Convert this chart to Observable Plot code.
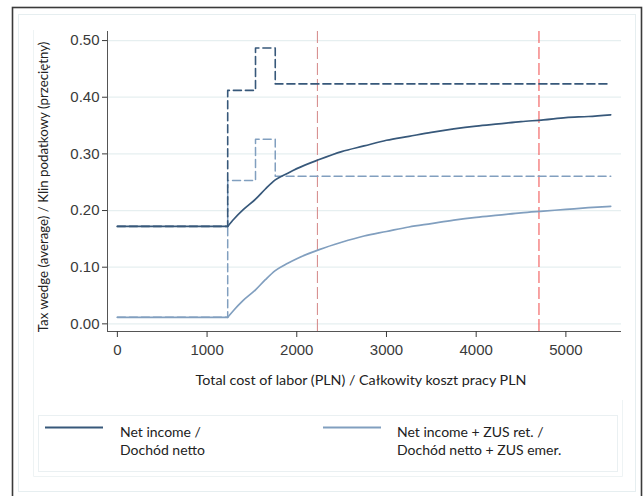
<!DOCTYPE html>
<html>
<head>
<meta charset="utf-8">
<script src="https://cdn.jsdelivr.net/npm/d3@7"></script>
<script src="https://cdn.jsdelivr.net/npm/@observablehq/plot@0.6"></script>
<style>
  html, body { margin: 0; padding: 0; background: #fff; }
  #wrap { position: relative; width: 644px; height: 496px; overflow: hidden; background: #fff; }
  #wrap > * { position: absolute; left: 0; top: 0; }
  .leg { font-family: Lato, "Open Sans", sans-serif; font-size: 14px; line-height: 18px; color: #222; }
</style>
</head>
<body>
<div id="wrap"></div>
<script>
// ---- data ----
const costAvg = [0, 1230, 1300, 1400, 1540, 1650, 1760, 1900, 2000, 2250, 2500, 2750, 3000, 3250, 3500, 3750, 4000, 4250, 4500, 4750, 5000, 5250, 5500];
const wedgeNet = [0.172, 0.172, 0.185, 0.201, 0.220, 0.238, 0.254, 0.266, 0.274, 0.290, 0.304, 0.314, 0.324, 0.331, 0.338, 0.344, 0.349, 0.353, 0.357, 0.360, 0.364, 0.366, 0.369];
const wedgeZus = [0.0115, 0.0115, 0.0245, 0.041, 0.060, 0.078, 0.094, 0.107, 0.115, 0.131, 0.144, 0.155, 0.163, 0.171, 0.177, 0.183, 0.188, 0.192, 0.196, 0.199, 0.202, 0.205, 0.2075];
const costMarg = [0, 1230, 1230, 1540, 1540, 1760, 1760, 5500];
const margNet = [0.172, 0.172, 0.412, 0.412, 0.487, 0.487, 0.4235, 0.4235];
const margZus = [0.0115, 0.0115, 0.253, 0.253, 0.326, 0.326, 0.2605, 0.2605];
const refLines = [2230, 4700];
const xTicks = [0, 1000, 2000, 3000, 4000, 5000];
const yTicks = [0, 0.1, 0.2, 0.3, 0.4, 0.5];
const seriesLabels = [["Net income /", "Dochód netto"], ["Net income + ZUS ret. /", "Dochód netto + ZUS emer."]];
const xTitle = "Total cost of labor (PLN) / Całkowity koszt pracy PLN";
const yTitle = "Tax wedge (average) / Klin podatkowy (przeciętny)";

const darkC = "#37587a";
const lightC = "#819fbf";

const avgNet = costAvg.map((x, i) => ({x, y: wedgeNet[i]}));
const avgZus = costAvg.map((x, i) => ({x, y: wedgeZus[i]}));
const mNet = costMarg.map((x, i) => ({x, y: margNet[i]}));
const mZus = costMarg.map((x, i) => ({x, y: margZus[i]}));

const xDom = [-110, 5620];
const yDom = [-0.0135, 0.516];

const wrap = document.getElementById("wrap");

// frames
const frames = document.createElementNS("http://www.w3.org/2000/svg", "svg");
frames.setAttribute("width", 644); frames.setAttribute("height", 496);
frames.innerHTML = `
  <rect x="12.5" y="7.5" width="629" height="495" fill="#fff" stroke="#3a3a3a" stroke-width="1.6"/>
  <rect x="18.5" y="14.5" width="617" height="477" fill="none" stroke="#e6eef0" stroke-width="1"/>
  <line x1="33.5" y1="30" x2="33.5" y2="476.5" stroke="#eef3f4"/>
  <line x1="33.5" y1="476.5" x2="622.5" y2="476.5" stroke="#eef3f4"/>
  <line x1="622.5" y1="400" x2="622.5" y2="476.5" stroke="#eef3f4"/>
  <rect x="38.5" y="415.5" width="579" height="56" fill="none" stroke="#eaf0f2"/>`;
wrap.appendChild(frames);

const chart = Plot.plot({
  width: 644,
  height: 496,
  marginLeft: 107,
  marginRight: 23,
  marginTop: 31,
  marginBottom: 165,
  style: {background: "transparent", fontFamily: "'Liberation Sans', Arial, sans-serif", fontSize: "15px", color: "#3a3a3a"},
  x: {domain: xDom},
  y: {domain: yDom},
  marks: [
    Plot.ruleY(yTicks, {stroke: "#e6eff0", strokeWidth: 1.2}),
    Plot.ruleX(refLines, {stroke: (d, i) => i === 0 ? "#d48686" : "#f04848", strokeWidth: 1, strokeDasharray: "12,4"}),
    Plot.line(mZus, {x: "x", y: "y", stroke: lightC, strokeWidth: 1.5, strokeDasharray: "8,4"}),
    Plot.line(mNet, {x: "x", y: "y", stroke: darkC, strokeWidth: 1.6, strokeDasharray: "8,4"}),
    Plot.line(avgZus.slice(0, 2), {x: "x", y: "y", stroke: lightC, strokeWidth: 1.7}),
    Plot.line(avgZus.slice(1), {x: "x", y: "y", stroke: lightC, strokeWidth: 1.7, curve: "monotone-x"}),
    Plot.line(avgNet.slice(0, 2), {x: "x", y: "y", stroke: darkC, strokeWidth: 1.7}),
    Plot.line(avgNet.slice(1), {x: "x", y: "y", stroke: darkC, strokeWidth: 1.7, curve: "monotone-x"}),
    Plot.ruleX([xDom[0]], {stroke: "#555", strokeWidth: 1}),
    Plot.ruleY([yDom[0]], {stroke: "#555", strokeWidth: 1}),
    Plot.axisX({ticks: xTicks, tickSize: 6, tickPadding: 7, label: null, tickFormat: d3.format("d")}),
    Plot.axisY({ticks: yTicks, tickSize: 5, tickPadding: 3, label: null, tickFormat: d3.format(".2f")})
  ]
});
wrap.appendChild(chart);

// axis titles and legend swatches
const titles = document.createElementNS("http://www.w3.org/2000/svg", "svg");
titles.setAttribute("width", 644); titles.setAttribute("height", 496);
titles.innerHTML = `
  <text x="361" y="385" text-anchor="middle" font-family="Lato, sans-serif" font-size="14.3" fill="#222">${xTitle}</text>
  <text transform="translate(48,187) rotate(-90)" text-anchor="middle" font-family="Lato, sans-serif" font-size="13.3" fill="#222">${yTitle}</text>
  <line x1="45" y1="427.5" x2="103" y2="427.5" stroke="${darkC}" stroke-width="2"/>
  <line x1="323" y1="427.5" x2="381" y2="427.5" stroke="${lightC}" stroke-width="2"/>`;
wrap.appendChild(titles);

// legend text
[[120, seriesLabels[0]], [397, seriesLabels[1]]].forEach(([left, lines]) => {
  const d = document.createElement("div");
  d.className = "leg";
  d.style.left = left + "px";
  d.style.top = "423px";
  d.innerHTML = lines.join("<br>");
  wrap.appendChild(d);
});
</script>
</body>
</html>
